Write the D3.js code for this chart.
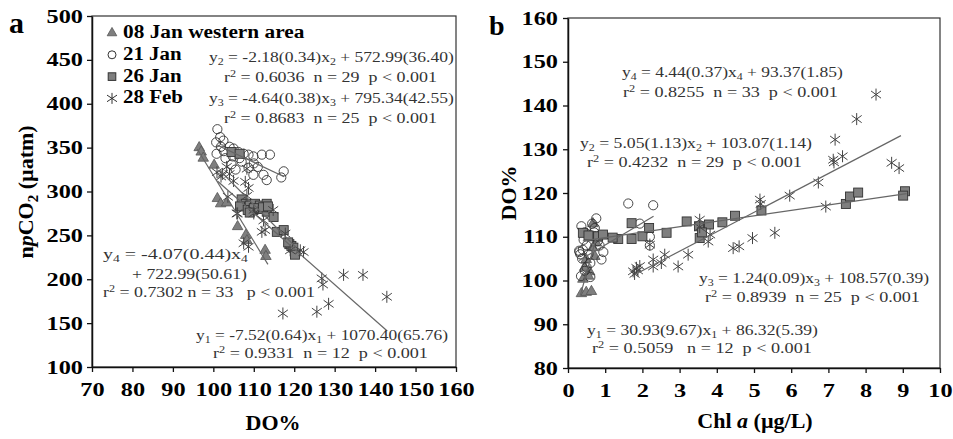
<!DOCTYPE html>
<html>
<head>
<meta charset="utf-8">
<script src="https://cdn.jsdelivr.net/npm/d3@7"></script>
<style>
  body { margin: 0; background: #fff; }
  svg text { font-family: "Liberation Serif", "Times New Roman", serif; }
</style>
</head>
<body>
<svg id="chart" width="953" height="439"></svg>
<script>
// ---- tick labels ----
const doTicksA = [70, 80, 90, 100, 110, 120, 130, 140, 150, 160];
const pco2Ticks = [100, 150, 200, 250, 300, 350, 400, 450, 500];
const chlTicks = [0, 1, 2, 3, 4, 5, 6, 7, 8, 9, 10];
const doTicksB = [80, 90, 100, 110, 120, 130, 140, 150, 160];

const legendNames = ["08 Jan western area", "21 Jan", "26 Jan", "28 Feb"];
const kinds = ["tri", "circle", "square", "star"];

// ---- panel a: DO% (x) vs npCO2 (y) ----
const jan08A = [[96.5,350],[97,345],[97.5,338],[100.2,330],[101,292],[101.8,286],[103.3,287],
  [106,260],[108,250],[108.3,244],[112.8,233],[113,226]];
const jan21A = [[101,371],[101.7,362],[100.7,356],[101.9,351],[100.8,343],[102.6,346],[104,351],
  [105,349],[106.2,345],[107.5,343],[108.7,342],[109.9,340],[112,342],[114,342],[110,332],
  [104.5,331],[105.5,325],[108.7,327],[109.9,319],[112.4,319],[113.2,313],[117.4,323],
  [116.8,316],[111,328],[107,334],[104.8,340],[103,338],[106.5,338],[102.5,358]];
const jan26A = [[104.5,345],[106.5,343],[107,291],[108,286],[109,284],[110.3,286],[111.5,284],
  [113.2,286],[106.6,283],[108.5,279],[109.9,279],[111.5,280],[113.2,277],[114.9,271],
  [115.7,254],[117.4,256],[118.8,240],[119.3,238],[119.8,236],[120.2,228],[110,281],
  [112.3,282],[109,276],[118.5,242],[113.5,283]];
const feb28A = [[100.9,322],[101.9,317],[102.3,320],[103.3,328],[104,320],[105,312],[103.6,294],
  [106,275],[108.3,326],[108.7,304],[108.3,295],[107.5,241],[108.7,237],[110,275],[112.4,267],
  [112.8,256],[117.8,252],[119,233],[122.3,231],[126.8,201],[127.1,194],[132.2,205],[137,205],
  [142.9,180],[117.2,161],[125.6,163],[128.5,172],[110,279],[112,254],[114.8,279],[121.5,233],
  [107.9,311],[105.8,275]];
// regression fits: slope, intercept, x range
const fitsA = [[-7.52, 1070.40, 96, 113.5], [-2.18, 572.99, 101, 117.5],
  [-4.64, 795.34, 101.5, 120.5], [-4.07, 722.99, 101, 143]];

// ---- panel b: Chl a (x) vs DO% (y) ----
const jan08B = [[0.36,97],[0.49,97.3],[0.63,97.5],[0.40,100.3],[0.45,103],[0.58,102],[0.49,104.8],
  [0.72,105.5],[0.67,107.5],[0.76,108.6],[0.67,113],[0.55,101]];
const jan21B = [[0.36,112.4],[0.31,106.5],[0.40,107],[0.76,114.2],[0.90,104.8],[1.62,117.6],
  [2.29,117.2],[2.2,110],[1.93,113],[0.45,102.2],[0.33,106],[0.35,101],[0.5,103],[0.55,110.5],
  [0.7,111],[0.8,109],[0.42,109.3],[0.6,100.8],[0.38,105],[0.65,113],[0.5,108],[0.3,106.8],
  [0.85,108],[0.95,106.5],[0.6,104],[0.72,112],[2.2,108],[0.45,111],[0.55,106]];
const jan26B = [[0.40,110.9],[0.63,110.1],[0.81,110.1],[0.94,110.5],[1.35,109.5],[1.71,113.1],
  [1.71,109.5],[2.0,110.1],[2.18,112],[2.65,110.9],[3.19,113.5],[3.52,112.4],[3.54,109.7],
  [3.79,112.8],[4.15,113.3],[4.49,114.8],[5.2,116],[7.47,117.5],[7.58,119.2],[7.8,120.1],
  [9.06,120.4],[9.01,119.4],[0.55,110.3],[1.2,109.8],[3.6,111]];
const feb28B = [[8.28,142.5],[7.76,136.9],[7.18,132.2],[7.13,127.6],[7.38,128.4],[8.7,126.9],
  [8.9,125.7],[6.73,122.4],[6.93,116.9],[5.96,119.4],[5.16,118.5],[5.56,110.9],[4.96,109.7],
  [4.6,107.8],[4.44,107.4],[3.77,108.9],[3.54,113.9],[3.54,112.2],[3.23,105.9],[2.96,103.2],
  [2.6,105.9],[2.51,104],[2.29,104.8],[2.29,103.2],[2.2,108.2],[1.84,102.9],[1.75,102.1],
  [1.93,103.3],[1.79,101.5],[7.15,127],[3.82,110.5],[5.18,117.5],[1.88,102.3]];
const fitsB = [[30.93, 86.32, 0.33, 0.75], [5.05, 103.07, 0.3, 2.3],
  [1.24, 108.57, 0.4, 9.1], [4.44, 93.37, 1.8, 8.95]];

// equation texts, "_" = subscript, "^" = superscript
const eqA = [
  ["y", "_2", " = -2.18(0.34)x", "_2", " + 572.99(36.40)"],
  ["r", "^2", " = 0.6036  n = 29  p < 0.001"],
  ["y", "_3", " = -4.64(0.38)x", "_3", " + 795.34(42.55)"],
  ["r", "^2", " = 0.8683  n = 25  p < 0.001"],
  ["y", "_4", " = -4.07(0.44)x", "_4"],
  ["+ 722.99(50.61)"],
  ["r", "^2", " = 0.7302 n = 33   p < 0.001"],
  ["y", "_1", " = -7.52(0.64)x", "_1", " + 1070.40(65.76)"],
  ["r", "^2", " = 0.9331  n = 12  p < 0.001"]
];
const eqB = [
  ["y", "_4", " = 4.44(0.37)x", "_4", " + 93.37(1.85)"],
  ["r", "^2", " = 0.8255  n = 33  p < 0.001"],
  ["y", "_2", " = 5.05(1.13)x", "_2", " + 103.07(1.14)"],
  ["r", "^2", " = 0.4232  n = 29  p < 0.001"],
  ["y", "_3", " = 1.24(0.09)x", "_3", " + 108.57(0.39)"],
  ["r", "^2", " = 0.8939  n = 25  p < 0.001"],
  ["y", "_1", " = 30.93(9.67)x", "_1", " + 86.32(5.39)"],
  ["r", "^2", " = 0.5059   n = 12  p < 0.001"]
];

const svg = d3.select("#chart");

// text with sub/superscripts, stretched to width w (the source figure is stretched sideways)
function richText(parent, parts, x, y, w, size, weight, fill) {
  const t = parent.append("text")
    .attr("font-size", size)
    .attr("font-weight", weight || "normal")
    .attr("fill", fill || "#000")
    .style("white-space", "pre");
  let back = 0;
  parts.forEach(p => {
    if (p[0] === "_" || p[0] === "^") {
      const dy = p[0] === "_" ? size * 0.22 : -size * 0.35;
      t.append("tspan").attr("font-size", size * 0.68).attr("dy", back + dy).text(p.slice(1));
      back = -dy;
    } else {
      t.append("tspan").attr("dy", back).text(p);
      back = 0;
    }
  });
  const bw = t.node().getBBox().width;
  const k = w ? w / bw : 1;
  t.attr("transform", `translate(${x},${y}) scale(${k},1)`);
  return t;
}

function starPath(h, w) {
  return `M0,${-h}L0,${h}M${-w},${-h * 0.6}L${w},${h * 0.6}M${-w},${h * 0.6}L${w},${-h * 0.6}`;
}

function drawMarks(g, data, x, y, kind) {
  const sel = g.append("g").selectAll("g").data(data).enter().append("g")
    .attr("transform", d => `translate(${x(d[0])},${y(d[1])})`);
  if (kind === "tri") {
    sel.append("path").attr("d", d3.symbol(d3.symbolTriangle, 48)())
      .attr("fill", "#7f7f7f").attr("stroke", "#555").attr("stroke-width", 0.8);
  } else if (kind === "circle") {
    sel.append("circle").attr("r", 4.6)
      .attr("fill", "none").attr("stroke", "#333").attr("stroke-width", 0.9);
  } else if (kind === "square") {
    sel.append("rect").attr("x", -4.5).attr("y", -4.5).attr("width", 9).attr("height", 9)
      .attr("fill", "#7f7f7f").attr("stroke", "#333").attr("stroke-width", 0.9);
  } else {
    sel.append("path").attr("d", starPath(6, 5))
      .attr("fill", "none").attr("stroke", "#444").attr("stroke-width", 1);
  }
}

function drawPanel(opt) {
  const g = svg.append("g");
  const x = d3.scaleLinear().domain(opt.xDomain).range(opt.xRange);
  const y = d3.scaleLinear().domain(opt.yDomain).range(opt.yRange);

  g.append("rect")
    .attr("x", opt.xRange[0]).attr("y", opt.yRange[1])
    .attr("width", opt.xRange[1] - opt.xRange[0])
    .attr("height", opt.yRange[0] - opt.yRange[1])
    .attr("fill", "none").attr("stroke", "#333").attr("stroke-width", 1.2);

  const xAxis = g.append("g")
    .attr("transform", `translate(0,${opt.yRange[0]})`)
    .call(d3.axisBottom(x).tickValues(opt.xTicks).tickSize(5).tickSizeOuter(0).tickPadding(11));
  const yAxis = g.append("g")
    .attr("transform", `translate(${opt.xRange[0]},0)`)
    .call(d3.axisLeft(y).tickValues(opt.yTicks).tickSize(5).tickSizeOuter(0).tickPadding(opt.yPad));

  [xAxis, yAxis].forEach(a => {
    a.select(".domain").attr("stroke", "#111").attr("stroke-width", 1.5);
    a.selectAll(".tick line").attr("stroke", "#111").attr("stroke-width", 1.3);
    a.selectAll(".tick text")
      .attr("fill", "#000")
      .attr("font-size", 19)
      .attr("font-weight", "bold")
      .attr("font-family", "Liberation Serif, Times New Roman, serif");
  });
  xAxis.selectAll(".tick text").attr("transform", "scale(1.28,1)");
  yAxis.selectAll(".tick text").each(function () {
    const t = d3.select(this);
    const tx = +t.attr("x");
    t.attr("x", tx / 1.28).attr("transform", "scale(1.28,1)");
  });

  opt.series.forEach((s, i) => drawMarks(g, s, x, y, kinds[i]));

  opt.fits.forEach(f => {
    g.append("line")
      .attr("x1", x(f[2])).attr("y1", y(f[0] * f[2] + f[1]))
      .attr("x2", x(f[3])).attr("y2", y(f[0] * f[3] + f[1]))
      .attr("stroke", "#666").attr("stroke-width", 1.2);
  });

  opt.eqs.forEach((e, i) => {
    const p = opt.eqPos[i];
    richText(g, e, p[0], p[1], p[2], 15, "normal", "#333");
  });

  g.append("text").attr("x", opt.letter[0]).attr("y", opt.letter[1])
    .attr("font-size", opt.letter[2]).attr("font-weight", "bold").text(opt.letter[3]);
  return { g, x, y };
}

// panel a
drawPanel({
  xDomain: [70, 160], xRange: [92, 456],
  yDomain: [100, 500], yRange: [367, 16],
  xTicks: doTicksA, yTicks: pco2Ticks, yPad: 4,
  series: [jan08A, jan21A, jan26A, feb28A],
  fits: fitsA,
  eqs: eqA,
  eqPos: [[209, 62, 245], [224, 82, 213], [209, 103, 245], [224, 123, 213],
          [103, 259, 145], [132, 279, 115], [103, 297, 212], [196, 340, 252], [213, 358, 215]],
  letter: [9, 33, 30, "a"]
});

// panel b
drawPanel({
  xDomain: [0, 10], xRange: [568, 940],
  yDomain: [80, 160], yRange: [368, 18],
  xTicks: chlTicks, yTicks: doTicksB, yPad: 5,
  series: [jan08B, jan21B, jan26B, feb28B],
  fits: fitsB,
  eqs: eqB,
  eqPos: [[622, 77, 221], [623, 97, 215], [580, 148, 232], [587, 167, 215],
          [699, 283, 230], [705, 302, 215], [587, 335, 231], [592, 353, 220]],
  letter: [489, 35, 28, "b"]
});

// legend (panel a)
const lg = svg.append("g");
const legendWidths = [182, 59, 59, 60];
legendNames.forEach((name, i) => {
  const cy = 33 + i * 21.8;
  const m = lg.append("g").attr("transform", `translate(112,${cy})`);
  if (kinds[i] === "tri") {
    m.append("path").attr("d", d3.symbol(d3.symbolTriangle, 40)())
      .attr("fill", "#7f7f7f").attr("stroke", "#555").attr("stroke-width", 0.8);
  } else if (kinds[i] === "circle") {
    m.append("circle").attr("r", 4).attr("fill", "none").attr("stroke", "#333");
  } else if (kinds[i] === "square") {
    m.append("rect").attr("x", -3.8).attr("y", -3.8).attr("width", 7.6).attr("height", 7.6)
      .attr("fill", "#7f7f7f").attr("stroke", "#333");
  } else {
    m.append("path").attr("d", starPath(5.5, 5)).attr("fill", "none").attr("stroke", "#333");
  }
  richText(lg, [name], 123, cy + 5, legendWidths[i], 19, "bold", "#000");
});

// axis titles
const ya = svg.append("text")
  .attr("transform", "translate(33,192) rotate(-90)")
  .attr("text-anchor", "middle").attr("font-size", 22).attr("font-weight", "bold");
ya.append("tspan").text("n");
ya.append("tspan").attr("font-style", "italic").text("p");
ya.append("tspan").text("CO");
ya.append("tspan").attr("font-size", 15).attr("dy", 5).text("2");
ya.append("tspan").attr("dy", -5).text(" (\u00b5atm)");

svg.append("text").attr("x", 273).attr("y", 430).attr("text-anchor", "middle")
  .attr("font-size", 22).attr("font-weight", "bold").text("DO%");

svg.append("text")
  .attr("transform", "translate(516,193) rotate(-90)")
  .attr("text-anchor", "middle").attr("font-size", 22).attr("font-weight", "bold").text("DO%");

const xb = svg.append("text").attr("x", 755).attr("y", 428).attr("text-anchor", "middle")
  .attr("font-size", 22).attr("font-weight", "bold");
xb.append("tspan").text("Chl ");
xb.append("tspan").attr("font-style", "italic").text("a");
xb.append("tspan").text(" (\u00b5g/L)");
</script>
</body>
</html>
